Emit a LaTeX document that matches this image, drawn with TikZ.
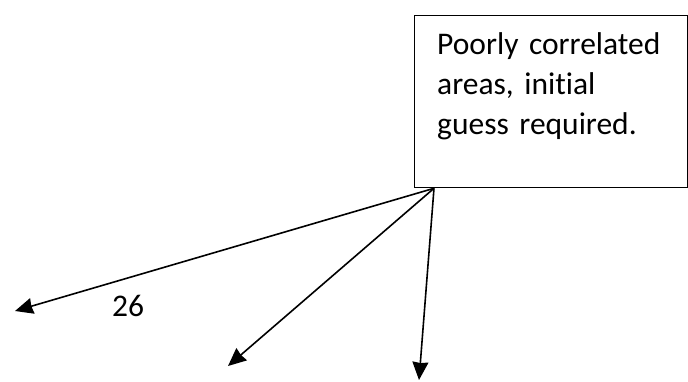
\documentclass[tikz,border=0pt]{standalone}
\usepackage{fontspec}
\setmainfont[Ligatures=NoCommon]{Carlito}
\usepackage{tikz}
\usetikzlibrary{arrows.meta}

\begin{document}
\begin{tikzpicture}[x=1pt,y=-1pt,
        notebox/.style={draw, line width=1.3pt, minimum width=273pt, minimum height=172pt, anchor=north west, inner sep=0pt},
        notetext/.style={anchor=north west, inner sep=0pt, text width=250pt, align=left, font=\fontsize{31.5}{40}\selectfont},
        pointer/.style={line width=1.6pt, -{Stealth[length=18pt,width=16pt,inset=1pt]}}]
                \useasboundingbox (0,0) rectangle (688,381);
                \node[notebox] (note) at (414,15) {};
                \node[notetext] (notelabel) at ([xshift=23pt,yshift=-17pt]note.north west) {Poorly correlated\\areas, initial\\guess required.};
                \coordinate (src) at ([xshift=20pt]note.south west);
                \coordinate (tipA) at (15,311);
                \coordinate (tipB) at (228,366);
                \coordinate (tipC) at (419,380);
                \draw[pointer] (src) -- (tipA);
                \draw[pointer] (src) -- (tipB);
                \draw[pointer] (src) -- (tipC);
                \node[font=\fontsize{31.5}{36}\selectfont] (num) at (128,306) {26};
            \end{tikzpicture}
\end{document}
